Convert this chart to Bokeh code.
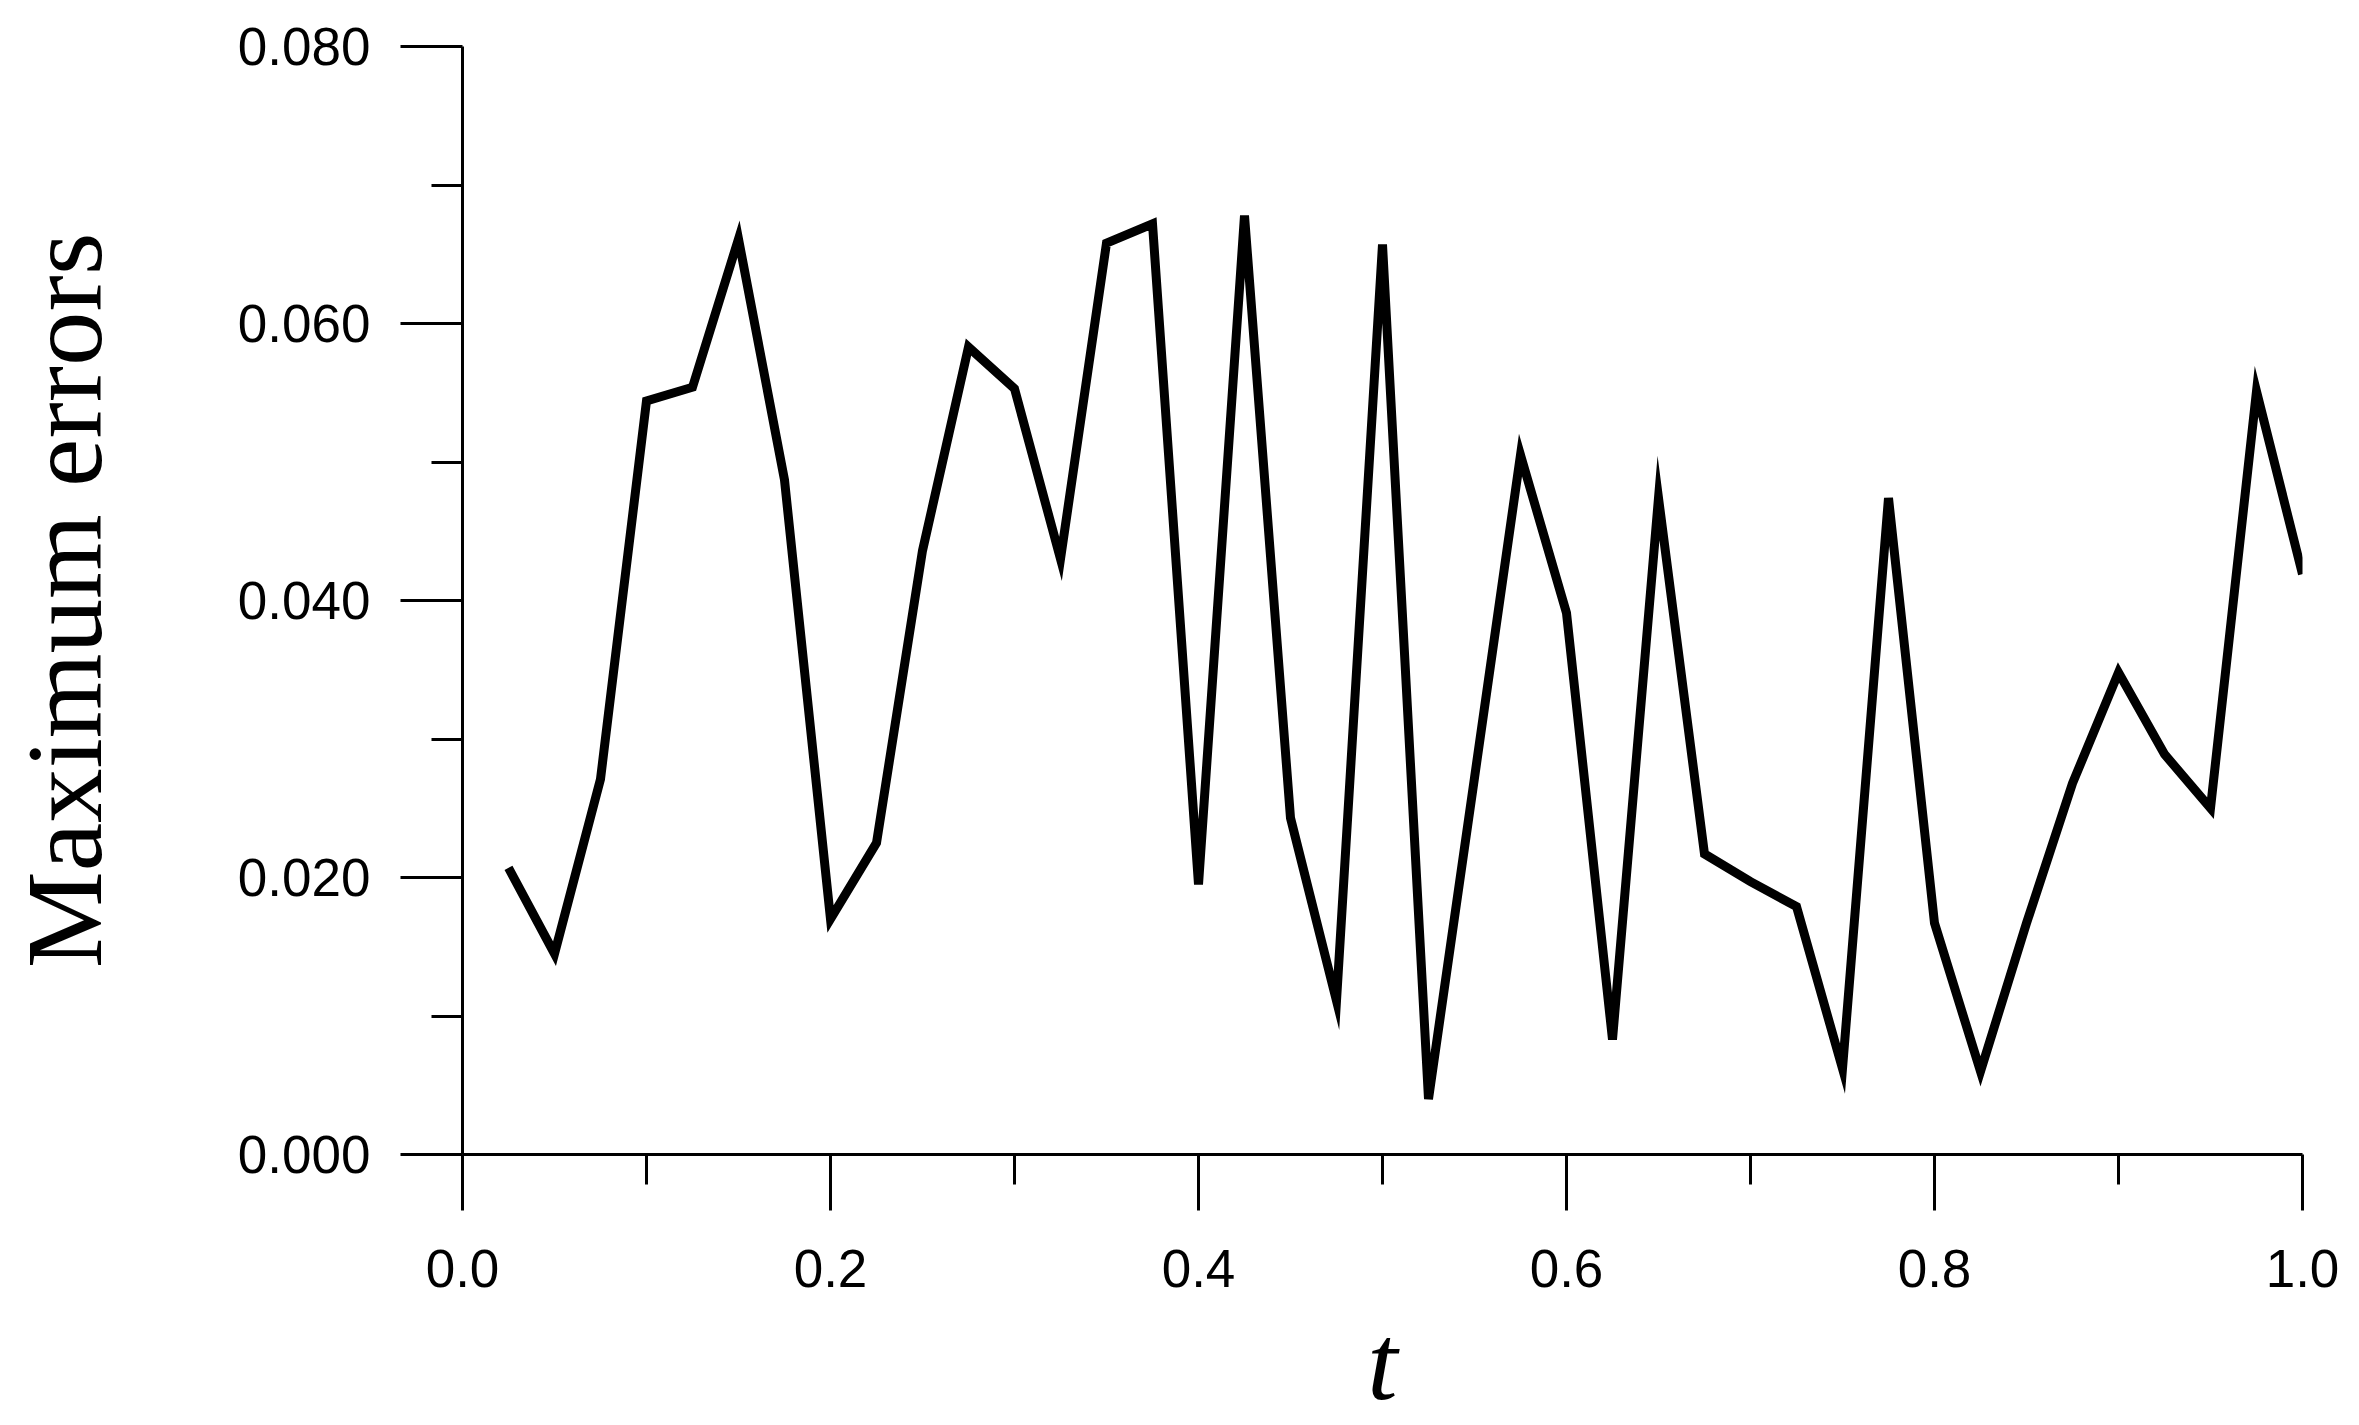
from bokeh.plotting import figure
from bokeh.models import FixedTicker, NumeralTickFormatter, Range1d
from bokeh.embed import file_html
from bokeh.resources import INLINE

# data
t_values = [0.025, 0.05, 0.075, 0.1, 0.125, 0.15, 0.175, 0.2, 0.225, 0.25,
            0.275, 0.3, 0.325, 0.35, 0.375, 0.4, 0.425, 0.45, 0.475, 0.5,
            0.525, 0.55, 0.575, 0.6, 0.625, 0.65, 0.675, 0.7, 0.725, 0.75,
            0.775, 0.8, 0.825, 0.85, 0.875, 0.9, 0.925, 0.95, 0.975, 1.0]
max_errors = [0.0207, 0.0145, 0.0271, 0.0544, 0.0554, 0.0661, 0.0487, 0.0170, 0.0225, 0.0436,
              0.0583, 0.0553, 0.0430, 0.0658, 0.0672, 0.0195, 0.0678, 0.0243, 0.0111, 0.0657,
              0.0040, 0.0272, 0.0505, 0.0391, 0.0083, 0.0474, 0.0217, 0.0197, 0.0179, 0.0062,
              0.0474, 0.0167, 0.0060, 0.0167, 0.0268, 0.0348, 0.0289, 0.0250, 0.0551, 0.0419]
x_major_ticks = [0.0, 0.2, 0.4, 0.6, 0.8, 1.0]
x_minor_ticks = [0.1, 0.3, 0.5, 0.7, 0.9]
y_major_ticks = [0.0, 0.02, 0.04, 0.06, 0.08]
y_minor_ticks = [0.01, 0.03, 0.05, 0.07]
x_title = "t"
y_title = "Maximum errors"

W, H = 2359, 1425
p = figure(width=W, height=H, output_backend="svg", toolbar_location=None,
           x_range=Range1d(0, 1), y_range=Range1d(0, 0.08),
           min_border_left=462, min_border_right=57, min_border_top=46,
           min_border_bottom=269)
p.outline_line_color = None
p.xgrid.visible = False
p.ygrid.visible = False
p.background_fill_color = "white"
p.border_fill_color = "white"

p.line(t_values, max_errors, line_width=9, line_color="black", line_join="miter")

xa = p.xaxis[0]
xa.ticker = FixedTicker(ticks=x_major_ticks, minor_ticks=x_minor_ticks)
xa.formatter = NumeralTickFormatter(format="0.0")
xa.axis_label = x_title
xa.axis_label_text_font = "Liberation Serif"
xa.axis_label_text_font_style = "italic"
xa.axis_label_text_font_size = "109px"
xa.axis_label_standoff = 12
xa.major_label_text_font = "Liberation Sans"
xa.major_label_text_font_size = "53px"
xa.major_label_standoff = 39
xa.major_tick_out = 56
xa.major_tick_in = 0
xa.minor_tick_out = 30
xa.minor_tick_in = 0
xa.axis_line_width = 3
xa.major_tick_line_width = 3
xa.minor_tick_line_width = 3
for k in ("axis_line_color", "major_tick_line_color", "minor_tick_line_color",
          "major_label_text_color", "axis_label_text_color"):
    setattr(xa, k, "black")

ya = p.yaxis[0]
ya.ticker = FixedTicker(ticks=y_major_ticks, minor_ticks=y_minor_ticks)
ya.formatter = NumeralTickFormatter(format="0.000")
ya.axis_label = y_title
ya.axis_label_text_font = "Liberation Serif"
ya.axis_label_text_font_style = "normal"
ya.axis_label_text_font_size = "109px"
ya.axis_label_standoff = 110
ya.major_label_text_font = "Liberation Sans"
ya.major_label_text_font_size = "53px"
ya.major_label_standoff = 30
ya.major_tick_out = 62
ya.major_tick_in = 0
ya.minor_tick_out = 31
ya.minor_tick_in = 0
ya.axis_line_width = 3
ya.major_tick_line_width = 3
ya.minor_tick_line_width = 3
for k in ("axis_line_color", "major_tick_line_color", "minor_tick_line_color",
          "major_label_text_color", "axis_label_text_color"):
    setattr(ya, k, "black")

open("out.html", "w").write(file_html(p, INLINE))
